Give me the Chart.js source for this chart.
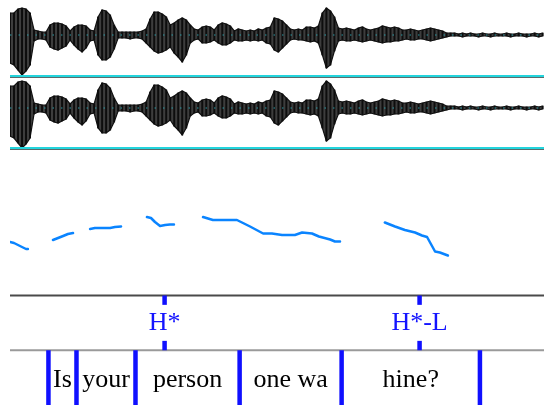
<!DOCTYPE html>
<html><head><meta charset="utf-8">
<script src="https://cdn.jsdelivr.net/npm/chart.js@4/dist/chart.umd.min.js"></script>
<style>
html,body{margin:0;padding:0;background:#fff;}
#wrap{position:relative;width:544px;height:405px;overflow:hidden;background:#fff;}
canvas{position:absolute;}
.rule{position:absolute;left:10px;width:534px;}
</style></head><body>
<div id="wrap">
<canvas id="w1" width="534" height="75" style="left:10px;top:0px"></canvas>
<canvas id="w2" width="534" height="75" style="left:10px;top:73px"></canvas>
<div class="rule" style="top:75px;height:2px;background:#22d4dc"></div>
<div class="rule" style="top:77px;height:1px;background:#5b6b6b"></div>
<div class="rule" style="top:147px;height:2px;background:#22d4dc"></div>
<div class="rule" style="top:149px;height:1px;background:#5b6b6b"></div>
<canvas id="pitch" width="534" height="130" style="left:10px;top:160px"></canvas>
<canvas id="tiers" width="534" height="115" style="left:10px;top:290px"></canvas>
</div>
<script>
// ---- data ----
const SAMPLE_STEP = 0.015; // seconds between envelope samples
const waveUp = [22,22,26,27,26,22,5,4,3,3,
  10,12,12,11,9,4,8,10,10,9,
  5,4,18,25,24,20,10,3,3,3,
  3,3,3,4,6,16,23,23,21,18,
  10,12,15,17,15,10,6,5,8,9,
  8,5,10,12,11,9,4,6,5,4,
  5,4,6,5,7,8,17,16,14,10,
  6,5,6,5,8,8,7,9,22,27,
  24,18,7,6,7,6,5,7,8,6,
  5,6,7,9,8,7,8,7,5,5,
  6,5,4,5,6,7,6,5,4,2,
  2,2,1,2,1,2,1,1,2,1,
  1,2,1,1,2,1,1,2,1,1,
  1,2,1,2];
const waveDown = [28,30,35,40,36,30,6,4,4,5,
  12,14,15,13,11,5,10,14,17,13,
  6,5,20,25,25,22,14,3,3,3,
  4,3,3,4,8,12,16,18,17,15,
  12,18,22,27,20,8,5,4,8,8,
  7,5,8,10,10,8,5,6,6,5,
  6,5,6,5,8,9,15,17,13,9,
  5,4,5,5,6,7,6,8,20,33,
  30,16,6,5,6,6,5,6,7,6,
  5,6,7,8,7,7,6,6,5,4,
  5,5,4,4,5,6,5,4,3,2,
  1,1,1,2,1,1,1,2,1,1,
  2,1,1,1,1,2,1,1,1,2,
  1,1,2,1];

const pitchTimes = [0.000,0.015,0.030,0.045,0.060,0.067, 0.10,
  0.161,0.180,0.199,0.217,0.236, 0.27,
  0.300,0.318,0.337,0.356,0.375,0.393,0.416, 0.46,
  0.513,0.528,0.543,0.562,0.581,0.599,0.614, 0.67,
  0.723,0.760,0.805,0.850,0.899,0.948,0.981,1.019,1.067,1.094,1.131,1.157,1.199,1.217,1.236, 1.32,
  1.404,1.442,1.479,1.517,1.543,1.562,1.592,1.610,1.640];
const pitchHz = [196,194,190,186,182,182, null,
  200,204,208,212,214, null,
  222,224,224,224,224,226,227, null,
  246,244,236,228,230,231,231, null,
  246,240,240,240,227,213,213,210,210,215,213,207,201,197,197, null,
  235,227,220,215,209,206,177,175,169];

const toneTimes = [0.579, 1.534];
const toneLabels = ['H*', 'H*-L'];
const boundaryTimes = [0.144, 0.249, 0.470, 0.860, 1.242, 1.760];
const wordLabels = ['Is', 'your', 'person', 'one wa', 'hine?'];

const T_MIN = 0, T_MAX = 2.0;

// ---- charts ----
const baseOpts = (ymin, ymax) => ({
  responsive:false, animation:false, events:[],
  layout:{padding:0},
  plugins:{legend:{display:false}, tooltip:{enabled:false}},
  scales:{
    x:{type:'linear', min:T_MIN, max:T_MAX, offset:false, display:false},
    y:{type:'linear', min:ymin, max:ymax, display:false}
  }
});

const waveTimes = waveUp.map((_, i) => +(i * SAMPLE_STEP).toFixed(4));

function waveChart(id){
  const upper = waveTimes.map((t,i)=>({x:t, y:waveUp[i]}));
  const lower = waveTimes.map((t,i)=>({x:t, y:-waveDown[i]}));
  const bars = waveTimes.map((t,i)=>({x:t, y:[-waveDown[i], waveUp[i]]}));
  new Chart(document.getElementById(id), {
    type:'line',
    data:{datasets:[
      {type:'line', data:[{x:T_MIN,y:0},{x:T_MAX,y:0}], borderColor:'#2a9aa5', borderWidth:1, borderDash:[1.5,7], pointRadius:0, order:0},
      {type:'bar', data:bars, backgroundColor:'#0d0d0d', barThickness:1.3, grouped:false, order:1},
      {type:'line', data:upper, borderColor:'#111', borderWidth:1.2, pointRadius:0, fill:false, tension:0, order:2},
      {type:'line', data:lower, borderColor:'#111', borderWidth:1.2, pointRadius:0, fill:'-1', backgroundColor:'#3d3d3d', tension:0, order:3}
    ]},
    options: baseOpts(-40, 35)
  });
}
waveChart('w1');
waveChart('w2');

new Chart(document.getElementById('pitch'), {
  type:'line',
  data:{datasets:[{
    data: pitchTimes.map((t,i)=>({x:t, y:pitchHz[i]})),
    borderColor:'#0a84ff', borderWidth:2.5, pointRadius:0, spanGaps:false, tension:0,
    borderCapStyle:'round', borderJoinStyle:'round'
  }]},
  options: baseOpts(100, 360)
});

function verticals(times, y0, y1){
  const out = [];
  times.forEach(t => { out.push({x:t,y:y0},{x:t,y:y1},{x:t,y:null}); });
  return out;
}

const tierText = {
  id:'tierText',
  afterDatasetsDraw(chart){
    const {ctx, scales:{x, y}} = chart;
    ctx.save();
    ctx.font = '26px "Liberation Serif", "Times New Roman", serif';
    ctx.textAlign = 'center';
    ctx.textBaseline = 'alphabetic';
    const toneBase = y.getPixelForValue(1.5) + 7;
    toneTimes.forEach((t,i) => {
      const px = x.getPixelForValue(t);
      const w = ctx.measureText(toneLabels[i]).width;
      ctx.fillStyle = '#fff';
      ctx.fillRect(px - w/2 - 2, toneBase - 25, w + 4, 36);
      ctx.fillStyle = '#1414ff';
      ctx.fillText(toneLabels[i], px, toneBase);
    });
    const wordBase = y.getPixelForValue(0.5) + 9.5;
    ctx.fillStyle = '#000';
    wordLabels.forEach((lab,i) => {
      const px = (x.getPixelForValue(boundaryTimes[i]) + x.getPixelForValue(boundaryTimes[i+1])) / 2;
      ctx.fillText(lab, px, wordBase);
    });
    ctx.restore();
  }
};

new Chart(document.getElementById('tiers'), {
  type:'line',
  data:{datasets:[
    {data:verticals(toneTimes, 1, 2), borderColor:'#1010ff', borderWidth:4.5, pointRadius:0, spanGaps:false, order:0},
    {data:verticals(boundaryTimes, 0, 1), borderColor:'#1010ff', borderWidth:4.5, pointRadius:0, spanGaps:false, order:1},
    {data:[{x:T_MIN,y:2},{x:T_MAX,y:2}], borderColor:'#4a4a4a', borderWidth:2, pointRadius:0, order:2},
    {data:[{x:T_MIN,y:1},{x:T_MAX,y:1}], borderColor:'#9a9a9a', borderWidth:2, pointRadius:0, order:3}
  ]},
  options: baseOpts(0, 2.1),
  plugins:[tierText]
});
</script>
</body></html>
